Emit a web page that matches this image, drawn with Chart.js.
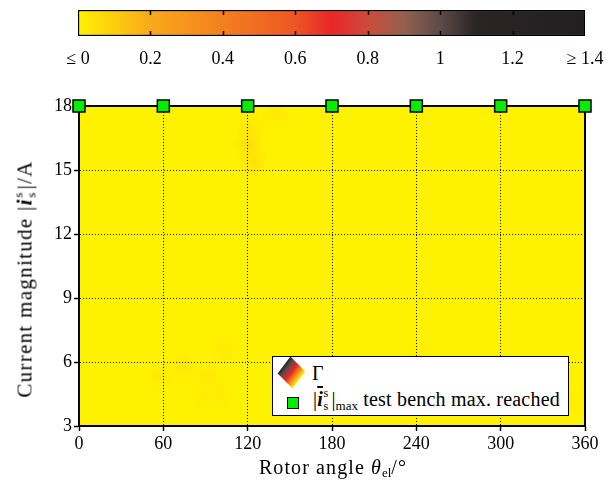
<!DOCTYPE html>
<html>
<head>
<meta charset="utf-8">
<script src="https://cdn.jsdelivr.net/npm/chart.js@4.4.1/dist/chart.umd.min.js"></script>
<style>
  body { margin: 0; width: 611px; height: 485px; position: relative; overflow: hidden; background: #fff; font-family: "Liberation Serif", serif; color: #000; }
  canvas { position: absolute; left: 0; top: 0; }
  .title { position: absolute; font-size: 20px; white-space: nowrap; letter-spacing: 1.1px; }
  #xTitle { left: 333px; top: 467px; transform: translate(-50%, -50%); }
  #yTitle { left: 24px; top: 279px; transform: translate(-50%, -50%) rotate(-90deg); font-size: 21px; letter-spacing: 1.3px; }
  .ss { display: inline-block; position: relative; width: 0.42em; height: 1em; vertical-align: baseline; letter-spacing: 0; }
  .ss span { position: absolute; left: 0.05em; font-size: 0.62em; line-height: 1; }
  .ss .up { top: 0.05em; }
  .ss .dn { top: 1.1em; }
  sub { font-size: 0.65em; vertical-align: -0.3em; line-height: 0; letter-spacing: 0; }
  #legend { position: absolute; left: 272px; top: 356px; width: 295px; height: 58px; border: 1.5px solid #000; background: #fff; font-size: 20px; }
  #legend .row { position: absolute; left: 0; white-space: nowrap; letter-spacing: 0.2px; }
  .diamond { position: absolute; left: 8px; top: 5px; width: 21px; height: 21px; transform: rotate(45deg) skewX(8deg);
             background: linear-gradient(to right, #231f20 0%, #5d4b47 20%, #e8262a 50%, #f3801f 72%, #fff200 100%); }
  .sq { position: absolute; left: 14px; top: 40px; width: 10px; height: 10px; background: #00ee00; border: 1.5px solid #000; }
</style>
</head>
<body>
<canvas id="main" width="611" height="485"></canvas>
<canvas id="bar" width="611" height="70"></canvas>

<div id="xTitle" class="title">Rotor angle <i>θ</i><sub>el</sub>/°</div>
<div id="yTitle" class="title">Current magnitude |<b><i>i</i></b><span class="ss"><span class="up">s</span><span class="dn">s</span></span>|/A</div>

<div id="legend">
  <div class="diamond"></div>
  <div class="row" style="left:39px; top:5px;">Γ</div>
  <div class="sq"></div>
  <div class="row" style="left:40px; top:29px;">|<span style="text-decoration: overline;"><b><i>i</i></b><span class="ss"><span class="up">s</span><span class="dn">s</span></span></span>|<sub>max</sub> test bench max. reached</div>
</div>

<script>
// axis ticks
const angleTicks = [0, 60, 120, 180, 240, 300, 360];
const currentTicks = [3, 6, 9, 12, 15, 18];
const gammaTicks = [0, 0.2, 0.4, 0.6, 0.8, 1, 1.2, 1.4];

// test bench limit markers
const maxAngles = [0, 60, 120, 180, 240, 300, 360];
const maxCurrents = [18, 18, 18, 18, 18, 18, 18];

// colour map of Gamma
const gammaStops = [0, 0.2, 0.4, 0.6, 0.7, 0.8, 0.9, 1.0, 1.1, 1.4];
const gammaColors = ['#fff200', '#f9a91b', '#f3801f', '#ee5624', '#e8262a', '#cc4b3a', '#94604f', '#5d4b47', '#2a2425', '#231f20'];

// small raised Gamma patches in the map (angle, current, Gamma)
const patchAngles   = [121, 124, 122, 140, 58, 75, 92, 104, 100, 88, 242, 352];
const patchCurrents = [16.2, 15.4, 17.0, 17.6, 5.4, 5.8, 5.3, 6.6, 4.5, 4.4, 6.2, 4.2];
const patchGammas   = [0.07, 0.06, 0.04, 0.035, 0.03, 0.035, 0.03, 0.03, 0.025, 0.025, 0.02, 0.02];

function hexRgb(h) {
  return [1, 3, 5].map(i => parseInt(h.slice(i, i + 2), 16));
}
function gammaRgb(g) {
  for (let i = 1; i < gammaStops.length; i++) {
    if (g <= gammaStops[i]) {
      const t = (g - gammaStops[i - 1]) / (gammaStops[i] - gammaStops[i - 1]);
      const a = hexRgb(gammaColors[i - 1]), b = hexRgb(gammaColors[i]);
      return a.map((v, k) => Math.round(v + (b[k] - v) * t));
    }
  }
  return hexRgb(gammaColors[gammaColors.length - 1]);
}

const tickFont = { family: '"Liberation Serif", serif', size: 18 };

// yellow map + patches under the grid
const mapPlugin = {
  id: 'map',
  beforeDraw(chart) {
    const { ctx, chartArea: a, scales } = chart;
    ctx.save();
    ctx.fillStyle = 'rgb(' + gammaRgb(0).join(',') + ')';
    ctx.fillRect(a.left, a.top, a.right - a.left, a.bottom - a.top);
    ctx.beginPath();
    ctx.rect(a.left, a.top, a.right - a.left, a.bottom - a.top);
    ctx.clip();
    patchAngles.forEach((ang, i) => {
      const x = scales.x.getPixelForValue(ang);
      const y = scales.y.getPixelForValue(patchCurrents[i]);
      const c = gammaRgb(patchGammas[i]).join(',');
      const r = 16;
      const g = ctx.createRadialGradient(x, y, 0, x, y, r);
      g.addColorStop(0, 'rgba(' + c + ',0.8)');
      g.addColorStop(1, 'rgba(' + c + ',0)');
      ctx.fillStyle = g;
      ctx.fillRect(x - r, y - r, 2 * r, 2 * r);
    });
    ctx.restore();
  },
  beforeDatasetsDraw(chart) {
    const { ctx, chartArea: a } = chart;
    ctx.save();
    ctx.strokeStyle = '#000';
    ctx.lineWidth = 2;
    ctx.setLineDash([]);
    ctx.strokeRect(a.left, a.top, a.right - a.left, a.bottom - a.top);
    ctx.restore();
  }
};

const gridOpts = { color: '#000', lineWidth: 1, tickLength: 5, tickColor: '#000', tickBorderDash: [], tickWidth: 1.5 };
const borderOpts = { color: '#000', width: 2, dash: [1, 2] };

new Chart(document.getElementById('main'), {
  type: 'scatter',
  data: {
    datasets: [{
      data: maxAngles.map((a, i) => ({ x: a, y: maxCurrents[i] })),
      pointStyle: 'rect',
      pointRadius: 8.5,
      pointHoverRadius: 8.5,
      backgroundColor: '#00ee00',
      borderColor: '#000',
      borderWidth: 1.5,
      clip: false
    }]
  },
  options: {
    responsive: false,
    animation: false,
    events: [],
    layout: { padding: { left: 0, right: 26, top: 106, bottom: 0 } },
    plugins: { legend: { display: false }, tooltip: { enabled: false } },
    scales: {
      x: {
        type: 'linear', min: 0, max: 360,
        afterBuildTicks: s => { s.ticks = angleTicks.map(v => ({ value: v })); },
        afterFit: s => { s.height = 59; },
        ticks: { font: tickFont, color: '#000', padding: 2, maxRotation: 0 },
        grid: gridOpts,
        border: borderOpts
      },
      y: {
        type: 'linear', min: 3, max: 18,
        afterBuildTicks: s => { s.ticks = currentTicks.map(v => ({ value: v })); },
        afterFit: s => { s.width = 79; },
        ticks: { font: tickFont, color: '#000', padding: 2 },
        grid: gridOpts,
        border: borderOpts
      }
    }
  },
  plugins: [mapPlugin]
});

// colour bar ticks inside the bar
const barTickPlugin = {
  id: 'barTicks',
  afterDatasetsDraw(chart) {
    const { ctx, chartArea: a, scales } = chart;
    ctx.save();
    ctx.strokeStyle = '#000';
    ctx.lineWidth = 1.5;
    gammaTicks.slice(1, -1).forEach(v => {
      const x = Math.round(scales.x.getPixelForValue(v)) + 0.5;
      ctx.beginPath();
      ctx.moveTo(x, a.top); ctx.lineTo(x, a.top + 5);
      ctx.moveTo(x, a.bottom); ctx.lineTo(x, a.bottom - 5);
      ctx.stroke();
    });
    ctx.restore();
  }
};

new Chart(document.getElementById('bar'), {
  type: 'bar',
  data: {
    labels: ['Γ'],
    datasets: [{
      data: [[gammaTicks[0], gammaTicks[gammaTicks.length - 1]]],
      backgroundColor: c => {
        const ch = c.chart;
        if (!ch.chartArea) return gammaColors[0];
        const x = ch.scales.x;
        const g = ch.ctx.createLinearGradient(x.getPixelForValue(0), 0, x.getPixelForValue(1.4), 0);
        gammaStops.forEach((s, i) => g.addColorStop(s / 1.4, gammaColors[i]));
        return g;
      },
      borderColor: '#000',
      borderWidth: 1.5,
      borderSkipped: false,
      barPercentage: 1,
      categoryPercentage: 1
    }]
  },
  options: {
    indexAxis: 'y',
    responsive: false,
    animation: false,
    events: [],
    layout: { padding: { left: 78, right: 26, top: 10, bottom: 0 } },
    plugins: { legend: { display: false }, tooltip: { enabled: false } },
    scales: {
      x: {
        type: 'linear', min: 0, max: 1.4,
        afterBuildTicks: s => { s.ticks = gammaTicks.map(v => ({ value: v })); },
        afterFit: s => { s.height = 34; },
        ticks: {
          font: tickFont, color: '#000', padding: 4, maxRotation: 0,
          callback: v => v === 0 ? '≤ 0' : (Math.abs(v - 1.4) < 1e-9 ? '≥ 1.4' : String(Math.round(v * 10) / 10))
        },
        grid: { display: false },
        border: { display: false }
      },
      y: { display: false }
    }
  },
  plugins: [barTickPlugin]
});
</script>
</body>
</html>
